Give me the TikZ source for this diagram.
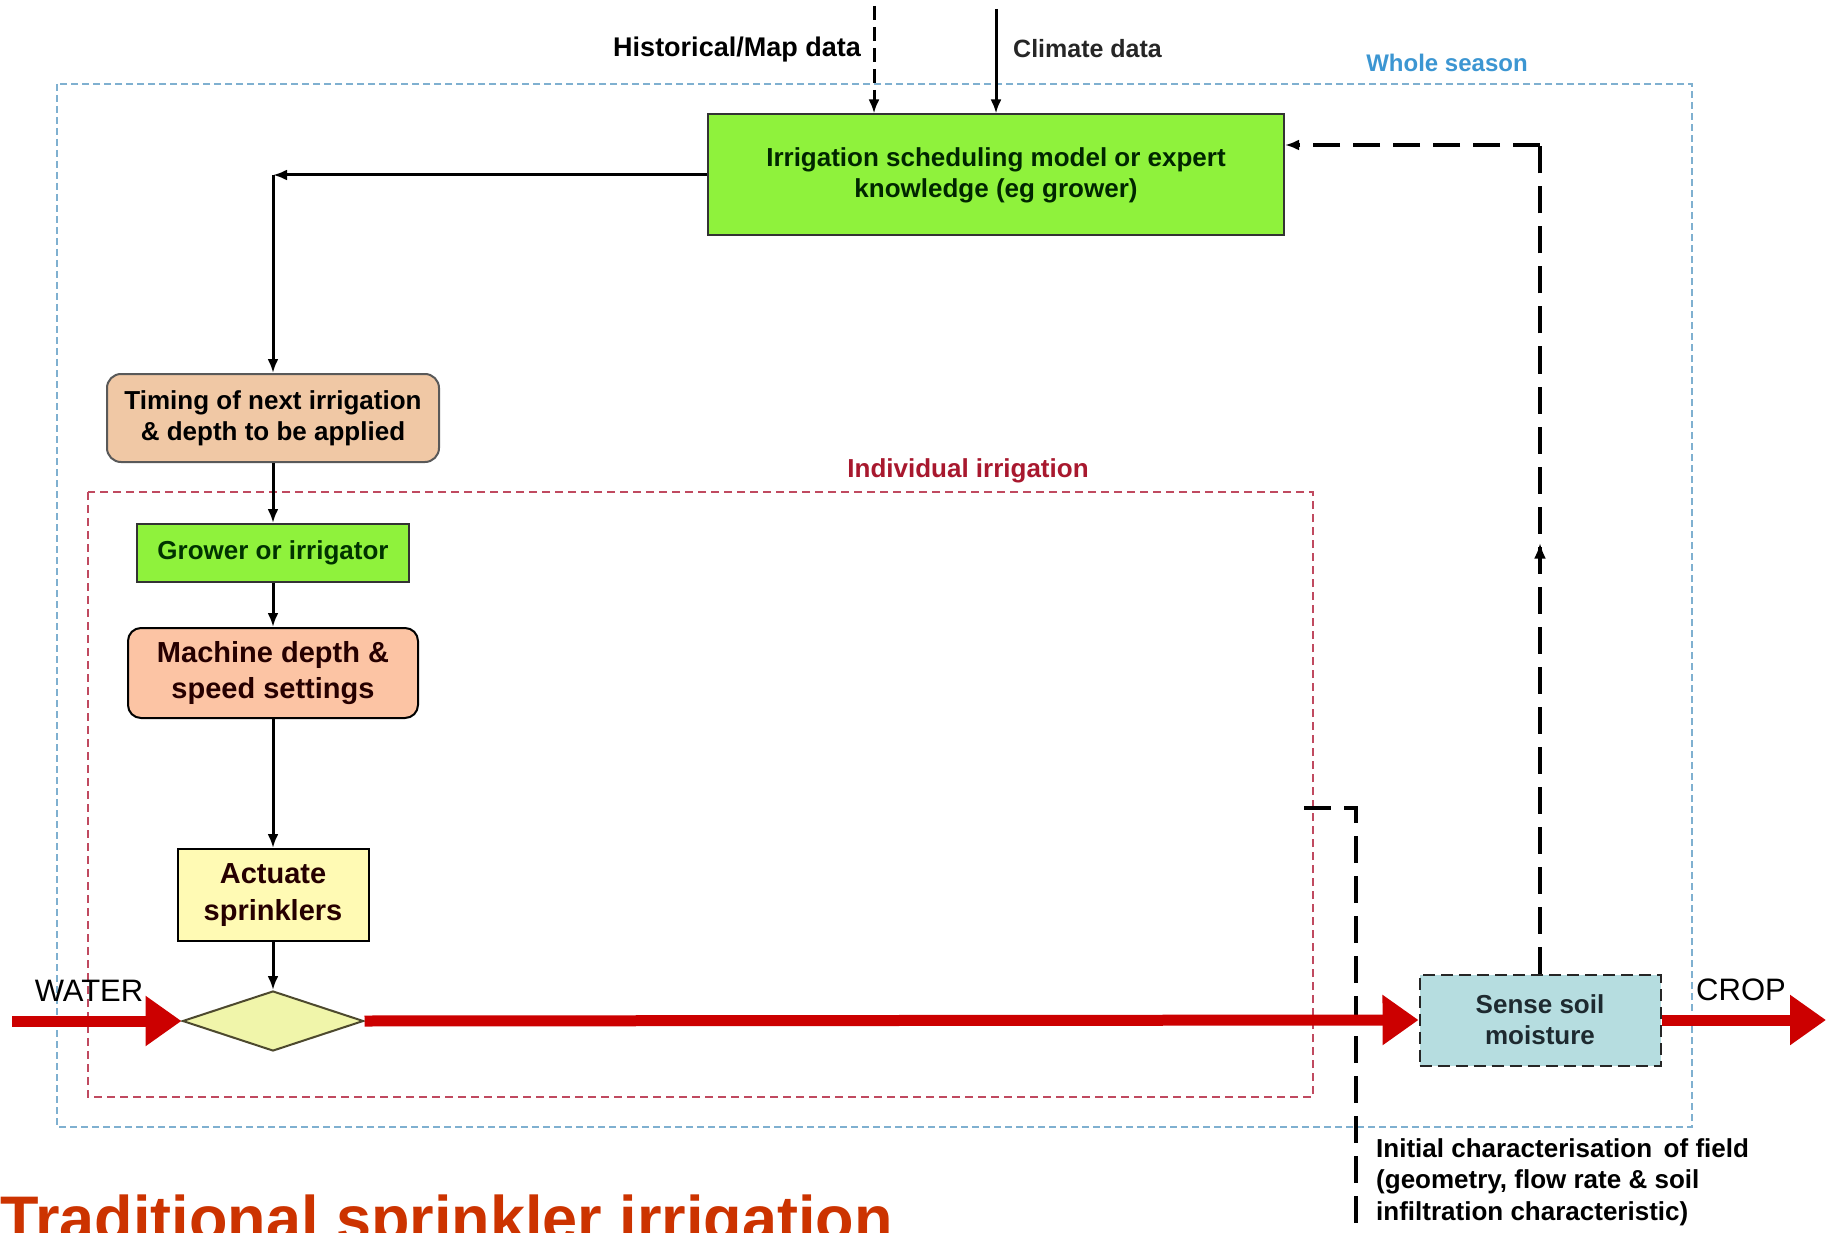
\documentclass[tikz,border=0pt]{standalone}
\usepackage{fontspec}
\setmainfont{Liberation Sans}
\usetikzlibrary{arrows.meta,shapes.geometric,decorations.markings}

\definecolor{lime}{HTML}{8FF23C}
\definecolor{tan}{HTML}{F0C8A5}
\definecolor{salmon}{HTML}{FCC4A4}
\definecolor{paleyellow}{HTML}{FFFAB4}
\definecolor{valvefill}{HTML}{F0F5AA}
\definecolor{teal}{HTML}{B6DDE0}
\definecolor{flowred}{HTML}{CC0000}
\definecolor{titlered}{HTML}{CC3300}
\definecolor{seasonblue}{HTML}{3C96D2}
\definecolor{seasonframe}{HTML}{7FB0D0}
\definecolor{irrred}{HTML}{A8182E}
\definecolor{irrframe}{HTML}{C04A60}
\definecolor{sensetext}{HTML}{1E2A30}

\newcommand{\lbl}[2]{\fontsize{#1}{#2}\selectfont}

\tikzset{
  boxbase/.style={draw, line width=2pt, align=center, inner sep=0pt, font=\lbl{26}{31}\bfseries},
  schedbox/.style={boxbase, fill=lime, draw=black!80, minimum width=576pt, minimum height=121pt, text=black!85!green},
  timingbox/.style={boxbase, fill=tan, draw=black!65, rounded corners=14pt, minimum width=332pt, minimum height=88pt},
  growerbox/.style={boxbase, fill=lime, draw=black!80, minimum width=272pt, minimum height=58pt, text=black!80!green},
  machinebox/.style={boxbase, fill=salmon, draw=black, rounded corners=13pt, minimum width=290pt, minimum height=90pt, font=\lbl{29}{36}\bfseries, text=black!85!red},
  actbox/.style={boxbase, fill=paleyellow, draw=black, minimum width=191pt, minimum height=92pt, font=\lbl{29}{37}\bfseries, text=black!85!red},
  valvebox/.style={diamond, draw=black!60!olive, line width=2pt, fill=valvefill, inner sep=0pt, minimum width=181pt, minimum height=60pt},
  sensebox/.style={boxbase, fill=teal, draw=black!85, dash pattern=on 12pt off 6pt, minimum width=241pt, minimum height=91pt, text=sensetext},
  ctrl/.style={draw=black, line width=3pt, -{Latex[length=14pt,width=11pt]}},
  flow/.style={draw=flowred, line width=11pt, -{Triangle[length=36pt,width=48pt]}},
  fbline/.style={draw=black, line width=3.5pt, dash pattern=on 27pt off 13pt},
  histline/.style={draw=black, line width=3pt, dash pattern=on 14pt off 7pt, -{Latex[length=14pt,width=11pt]}},
  wsframe/.style={draw=seasonframe, line width=1.6pt, dash pattern=on 7pt off 4pt},
  iiframe/.style={draw=irrframe, line width=1.6pt, dash pattern=on 8pt off 5pt},
  tag/.style={inner sep=0pt, font=\lbl{26}{31}\bfseries},
  bigtag/.style={inner sep=0pt, font=\lbl{31}{36}}
}

\begin{document}
\begin{tikzpicture}[x=1pt,y=-1pt]
\useasboundingbox (0,0) rectangle (1837,1233);
\clip (0,0) rectangle (1837,1233);
\fill[white] (0,0) rectangle (1837,1233);

% scope frames
\draw[wsframe] (57,84) rectangle (1692,1127);
\draw[iiframe] (88,492) rectangle (1313,1097);
\node[tag, text=seasonblue, font=\lbl{24}{28}\bfseries] (wslbl) at (1447,63) {Whole season};
\node[tag, text=irrred] (iilbl) at (968,471) {Individual irrigation};

% process boxes
\node[schedbox] (sched) at (996,175) {Irrigation scheduling model or expert\\knowledge (eg grower)};
\node[timingbox] (timing) at (273,418) {Timing of next irrigation\\\& depth to be applied};
\node[growerbox] (grower) at (273,553) {Grower or irrigator};
\node[machinebox] (machine) at (273,673) {Machine depth \&\\speed settings};
\node[actbox] (act) at (273,895) {Actuate\\sprinklers};
\node[valvebox] (valve) at (273,1021) {};
\node[sensebox] (sense) at (1540,1020) {Sense soil\\moisture};

% external inputs
\node[tag, anchor=east, font=\lbl{27}{31}\bfseries] (histlbl) at (861,50) {Historical/Map data};
\node[tag, anchor=west, font=\lbl{25}{30}\bfseries, text=black!85] (climlbl) at (1013,49) {Climate data};
\coordinate (histsrc) at (874,6);
\coordinate (climsrc) at (996,9);
\draw[histline] (histsrc) -- (histsrc |- sched.north);
\draw[ctrl] (climsrc) -- (sched.north);

% control chain
\coordinate (turn) at (273,175);
\draw[ctrl] (sched.west) -- (turn);
\draw[ctrl] (turn) -- (timing.north);
\draw[ctrl] (timing) -- (grower);
\draw[ctrl] (grower) -- (machine);
\draw[ctrl] (machine) -- (act);
\draw[ctrl] (act) -- (valve);

% initial characterisation input
\coordinate (ic0) at (1304,808);
\coordinate (ic1) at (1356,808);
\coordinate (ic2) at (1356,1240);
\draw[fbline] (ic0) -- (ic1) -- (ic2);
\node[tag, anchor=north west, align=left, font=\lbl{26}{31.5}\bfseries] (initlbl) at (1376,1138)
  {Initial characterisation\, of field\\(geometry, flow rate \& soil\\infiltration characteristic)};

% water flow
\coordinate (watersrc) at (12,1021);
\coordinate (cropend) at (1826,1020);
\draw[flow] (watersrc) -- (valve.west);
\draw[flow] (valve.east) -- (sense.west);
\draw[flow] (sense.east) -- (cropend);
\node[bigtag] (waterlbl) at (89,991) {WATER};
\node[bigtag] (croplbl) at (1741,990) {CROP};

% feedback from soil moisture sensing
\coordinate (fbc) at (1540,145);
\draw[fbline, postaction={decorate}, decoration={markings, mark=at position 0.52 with {\arrow{Latex[length=16pt,width=12pt]}}}] (sense.north) -- (fbc);
\draw[fbline, -{Latex[length=14pt,width=11pt]}] (fbc) -- (sched.east |- fbc);

% title, running off the lower edge of the page
\node[inner sep=0pt, anchor=base west, text=titlered, font=\lbl{63}{70}\bfseries] (title) at (0,1240) {Traditional sprinkler irrigation};
\end{tikzpicture}
\end{document}
